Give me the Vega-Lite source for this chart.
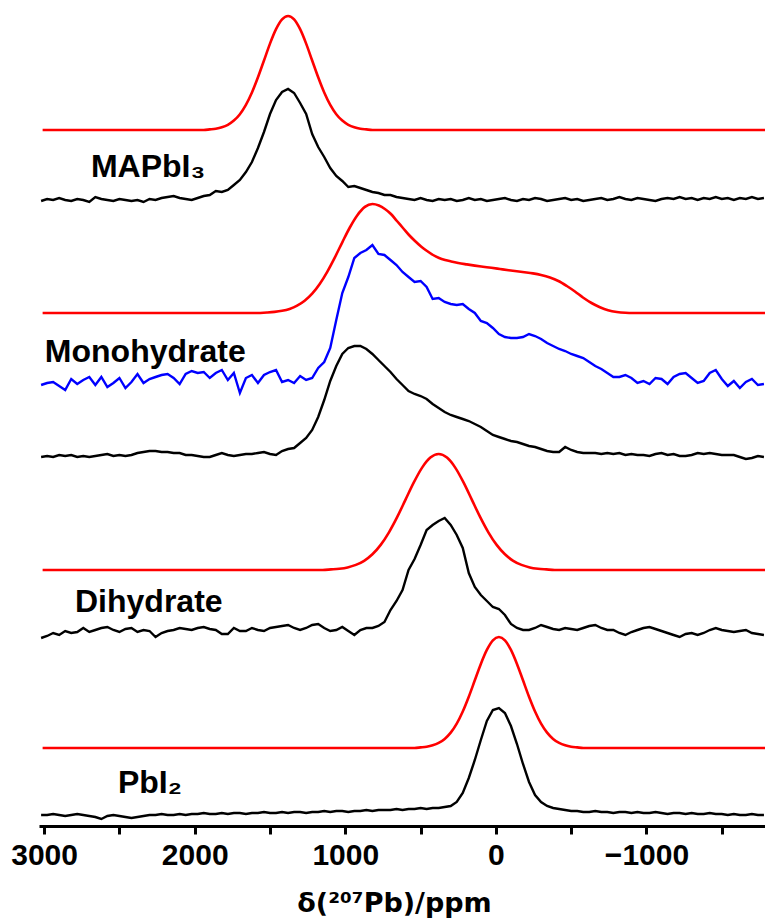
{
  "$schema": "https://vega.github.io/schema/vega-lite/v6.json",
  "width": 726,
  "height": 826,
  "autosize": {"type": "none"},
  "padding": {"left": 39, "top": 0, "right": 0, "bottom": 96},
  "background": "white",
  "config": {"view": {"stroke": null}},
  "datasets": {
    "fits": [
      {"s":"m","ppm":3010,"I":696},{"s":"m","ppm":1940,"I":696},{"s":"m","ppm":1900,"I":696.6},{"s":"m","ppm":1860,"I":697.3},{"s":"m","ppm":1820,"I":698.7},{"s":"m","ppm":1780,"I":701.2},{"s":"m","ppm":1740,"I":705.4},{"s":"m","ppm":1700,"I":711.8},{"s":"m","ppm":1660,"I":721.1},{"s":"m","ppm":1620,"I":733.5},{"s":"m","ppm":1580,"I":748.7},{"s":"m","ppm":1540,"I":765.5},{"s":"m","ppm":1500,"I":782.4},{"s":"m","ppm":1460,"I":796.8},{"s":"m","ppm":1420,"I":806.6},{"s":"m","ppm":1380,"I":810},{"s":"m","ppm":1340,"I":806.6},{"s":"m","ppm":1300,"I":796.8},{"s":"m","ppm":1260,"I":782.4},{"s":"m","ppm":1220,"I":765.5},{"s":"m","ppm":1180,"I":748.7},{"s":"m","ppm":1140,"I":733.5},{"s":"m","ppm":1100,"I":721.1},{"s":"m","ppm":1060,"I":711.8},{"s":"m","ppm":1020,"I":705.4},{"s":"m","ppm":980,"I":701.2},{"s":"m","ppm":940,"I":698.7},{"s":"m","ppm":900,"I":697.3},{"s":"m","ppm":860,"I":696.6},{"s":"m","ppm":820,"I":696},{"s":"m","ppm":-1787,"I":696},
      {"s":"h","ppm":3010,"I":513},{"s":"h","ppm":1600,"I":513},{"s":"h","ppm":1520,"I":513.5},{"s":"h","ppm":1470,"I":514.1},{"s":"h","ppm":1420,"I":515.2},{"s":"h","ppm":1370,"I":517.1},{"s":"h","ppm":1320,"I":520.3},{"s":"h","ppm":1270,"I":525.2},{"s":"h","ppm":1220,"I":532.3},{"s":"h","ppm":1170,"I":542},{"s":"h","ppm":1120,"I":554.2},{"s":"h","ppm":1070,"I":568.4},{"s":"h","ppm":1020,"I":583.7},{"s":"h","ppm":970,"I":598.5},{"s":"h","ppm":920,"I":610.8},{"s":"h","ppm":870,"I":619.1},{"s":"h","ppm":820,"I":622},{"s":"h","ppm":777,"I":620.5},{"s":"h","ppm":737,"I":617},{"s":"h","ppm":697,"I":612},{"s":"h","ppm":657,"I":605},{"s":"h","ppm":617,"I":598},{"s":"h","ppm":577,"I":591},{"s":"h","ppm":537,"I":585},{"s":"h","ppm":497,"I":579.5},{"s":"h","ppm":457,"I":575},{"s":"h","ppm":417,"I":571},{"s":"h","ppm":377,"I":568},{"s":"h","ppm":337,"I":566},{"s":"h","ppm":297,"I":564.5},{"s":"h","ppm":250,"I":563},{"s":"h","ppm":193,"I":561.6},{"s":"h","ppm":140,"I":560.4},{"s":"h","ppm":86,"I":559.3},{"s":"h","ppm":30,"I":558.2},{"s":"h","ppm":-27,"I":557},{"s":"h","ppm":-85,"I":555.8},{"s":"h","ppm":-139,"I":554.8},{"s":"h","ppm":-190,"I":553.8},{"s":"h","ppm":-246,"I":552.6},{"s":"h","ppm":-300,"I":551},{"s":"h","ppm":-359,"I":548.5},{"s":"h","ppm":-415,"I":545},{"s":"h","ppm":-471,"I":540},{"s":"h","ppm":-525,"I":534.5},{"s":"h","ppm":-578,"I":528.5},{"s":"h","ppm":-635,"I":523},{"s":"h","ppm":-691,"I":518.8},{"s":"h","ppm":-745,"I":515.8},{"s":"h","ppm":-803,"I":514},{"s":"h","ppm":-860,"I":513.2},{"s":"h","ppm":-910,"I":513},{"s":"h","ppm":-1787,"I":513},
      {"s":"d","ppm":3010,"I":256},{"s":"d","ppm":1150,"I":256},{"s":"d","ppm":1095,"I":256.6},{"s":"d","ppm":1040,"I":257.3},{"s":"d","ppm":985,"I":258.6},{"s":"d","ppm":930,"I":261.1},{"s":"d","ppm":875,"I":265.2},{"s":"d","ppm":820,"I":271.7},{"s":"d","ppm":765,"I":281.1},{"s":"d","ppm":710,"I":293.7},{"s":"d","ppm":655,"I":309.1},{"s":"d","ppm":600,"I":326.4},{"s":"d","ppm":545,"I":343.6},{"s":"d","ppm":490,"I":358.4},{"s":"d","ppm":435,"I":368.4},{"s":"d","ppm":380,"I":372},{"s":"d","ppm":325,"I":368.4},{"s":"d","ppm":270,"I":358.4},{"s":"d","ppm":215,"I":343.6},{"s":"d","ppm":160,"I":326.4},{"s":"d","ppm":105,"I":309.1},{"s":"d","ppm":50,"I":293.7},{"s":"d","ppm":-5,"I":281.1},{"s":"d","ppm":-60,"I":271.7},{"s":"d","ppm":-115,"I":265.2},{"s":"d","ppm":-170,"I":261.1},{"s":"d","ppm":-225,"I":258.6},{"s":"d","ppm":-280,"I":257.3},{"s":"d","ppm":-335,"I":256.6},{"s":"d","ppm":-390,"I":256},{"s":"d","ppm":-1787,"I":256},
      {"s":"p","ppm":3010,"I":78},{"s":"p","ppm":540,"I":78},{"s":"p","ppm":500,"I":78.6},{"s":"p","ppm":460,"I":79.3},{"s":"p","ppm":420,"I":80.7},{"s":"p","ppm":380,"I":83.1},{"s":"p","ppm":340,"I":87.1},{"s":"p","ppm":300,"I":93.4},{"s":"p","ppm":260,"I":102.4},{"s":"p","ppm":220,"I":114.5},{"s":"p","ppm":180,"I":129.3},{"s":"p","ppm":140,"I":145.7},{"s":"p","ppm":100,"I":162.1},{"s":"p","ppm":60,"I":176.1},{"s":"p","ppm":20,"I":185.7},{"s":"p","ppm":-20,"I":189},{"s":"p","ppm":-60,"I":185.7},{"s":"p","ppm":-100,"I":176.1},{"s":"p","ppm":-140,"I":162.1},{"s":"p","ppm":-180,"I":145.7},{"s":"p","ppm":-220,"I":129.3},{"s":"p","ppm":-260,"I":114.5},{"s":"p","ppm":-300,"I":102.4},{"s":"p","ppm":-340,"I":93.4},{"s":"p","ppm":-380,"I":87.1},{"s":"p","ppm":-420,"I":83.1},{"s":"p","ppm":-460,"I":80.7},{"s":"p","ppm":-500,"I":79.3},{"s":"p","ppm":-540,"I":78.6},{"s":"p","ppm":-580,"I":78},{"s":"p","ppm":-1787,"I":78}
    ],
    "spectra": [
      {"ppm":3020,"mb":625,"hu":441,"hb":369,"db":188,"pb":11},
      {"ppm":2980,"mb":627,"hu":443,"hb":370,"db":190,"pb":11},
      {"ppm":2940,"mb":626,"hu":444,"hb":369,"db":193,"pb":12},
      {"ppm":2900,"mb":628,"hu":440,"hb":371,"db":191,"pb":11},
      {"ppm":2860,"mb":626,"hu":436,"hb":370,"db":195,"pb":10},
      {"ppm":2820,"mb":625,"hu":447,"hb":371,"db":193,"pb":11},
      {"ppm":2780,"mb":627,"hu":442,"hb":369,"db":194,"pb":12},
      {"ppm":2740,"mb":626,"hu":446,"hb":370,"db":198,"pb":11},
      {"ppm":2700,"mb":624,"hu":449,"hb":369,"db":194,"pb":10},
      {"ppm":2660,"mb":629,"hu":441,"hb":370,"db":196,"pb":9},
      {"ppm":2620,"mb":627,"hu":449,"hb":371,"db":198,"pb":7},
      {"ppm":2580,"mb":626,"hu":439,"hb":372,"db":199,"pb":10},
      {"ppm":2540,"mb":625,"hu":443,"hb":370,"db":196,"pb":11},
      {"ppm":2500,"mb":627,"hu":448,"hb":371,"db":194,"pb":10},
      {"ppm":2460,"mb":626,"hu":438,"hb":370,"db":197,"pb":9},
      {"ppm":2420,"mb":625,"hu":444,"hb":371,"db":198,"pb":8},
      {"ppm":2380,"mb":626,"hu":452,"hb":373,"db":194,"pb":9},
      {"ppm":2340,"mb":624,"hu":443,"hb":374,"db":196,"pb":10},
      {"ppm":2300,"mb":627,"hu":447,"hb":375,"db":195,"pb":11},
      {"ppm":2260,"mb":626,"hu":449,"hb":375,"db":189,"pb":11},
      {"ppm":2220,"mb":628,"hu":451,"hb":374,"db":193,"pb":12},
      {"ppm":2180,"mb":629,"hu":452,"hb":374,"db":195,"pb":11},
      {"ppm":2140,"mb":630,"hu":448,"hb":373,"db":196,"pb":11},
      {"ppm":2100,"mb":628,"hu":442,"hb":373,"db":198,"pb":12},
      {"ppm":2060,"mb":627,"hu":452,"hb":371,"db":197,"pb":11},
      {"ppm":2020,"mb":626,"hu":455,"hb":371,"db":196,"pb":12},
      {"ppm":1980,"mb":628,"hu":453,"hb":370,"db":198,"pb":12},
      {"ppm":1940,"mb":630,"hu":454,"hb":369,"db":199,"pb":13},
      {"ppm":1900,"mb":631,"hu":448,"hb":369,"db":197,"pb":12},
      {"ppm":1860,"mb":635,"hu":453,"hb":371,"db":196,"pb":12},
      {"ppm":1820,"mb":634,"hu":456,"hb":373,"db":192,"pb":13},
      {"ppm":1780,"mb":636,"hu":446,"hb":371,"db":192,"pb":12},
      {"ppm":1740,"mb":641,"hu":453,"hb":370,"db":198,"pb":13},
      {"ppm":1700,"mb":646,"hu":433,"hb":371,"db":195,"pb":13},
      {"ppm":1660,"mb":654,"hu":448,"hb":372,"db":195,"pb":12},
      {"ppm":1620,"mb":664,"hu":451,"hb":372,"db":198,"pb":13},
      {"ppm":1580,"mb":678,"hu":443,"hb":373,"db":196,"pb":13},
      {"ppm":1540,"mb":694,"hu":451,"hb":374,"db":195,"pb":14},
      {"ppm":1500,"mb":712,"hu":454,"hb":372,"db":198,"pb":13},
      {"ppm":1460,"mb":726,"hu":456,"hb":371,"db":199,"pb":13},
      {"ppm":1420,"mb":734,"hu":444,"hb":375,"db":200,"pb":14},
      {"ppm":1380,"mb":737,"hu":446,"hb":377,"db":201,"pb":13},
      {"ppm":1340,"mb":733,"hu":443,"hb":378,"db":198,"pb":14},
      {"ppm":1300,"mb":723,"hu":450,"hb":383,"db":196,"pb":14},
      {"ppm":1260,"mb":712,"hu":446,"hb":388,"db":198,"pb":13},
      {"ppm":1220,"mb":692,"hu":448,"hb":396,"db":201,"pb":14},
      {"ppm":1180,"mb":679,"hu":458,"hb":409,"db":202,"pb":14},
      {"ppm":1140,"mb":669,"hu":464,"hb":426,"db":198,"pb":15},
      {"ppm":1100,"mb":658,"hu":478,"hb":445,"db":195,"pb":14},
      {"ppm":1060,"mb":650,"hu":506,"hb":460,"db":196,"pb":15},
      {"ppm":1020,"mb":645,"hu":533,"hb":472,"db":199,"pb":15},
      {"ppm":980,"mb":639,"hu":549,"hb":478,"db":195,"pb":14},
      {"ppm":940,"mb":640,"hu":568,"hb":480,"db":191,"pb":15},
      {"ppm":900,"mb":638,"hu":573,"hb":480,"db":196,"pb":15},
      {"ppm":860,"mb":636,"hu":576,"hb":477,"db":198,"pb":16},
      {"ppm":820,"mb":634,"hu":581,"hb":472,"db":198,"pb":15},
      {"ppm":780,"mb":633,"hu":572,"hb":466,"db":200,"pb":16},
      {"ppm":740,"mb":631,"hu":571,"hb":460,"db":204,"pb":16},
      {"ppm":700,"mb":631,"hu":566,"hb":454,"db":216,"pb":16},
      {"ppm":660,"mb":629,"hu":561,"hb":447,"db":225,"pb":17},
      {"ppm":620,"mb":628,"hu":554,"hb":441,"db":236,"pb":16},
      {"ppm":580,"mb":627,"hu":549,"hb":435,"db":256,"pb":17},
      {"ppm":540,"mb":626,"hu":544,"hb":432,"db":267,"pb":17},
      {"ppm":500,"mb":628,"hu":545,"hb":430,"db":281,"pb":18},
      {"ppm":460,"mb":626,"hu":539,"hb":427,"db":296,"pb":17},
      {"ppm":420,"mb":625,"hu":527,"hb":422,"db":301,"pb":18},
      {"ppm":380,"mb":627,"hu":528,"hb":418,"db":305,"pb":18},
      {"ppm":340,"mb":626,"hu":524,"hb":414,"db":308,"pb":19},
      {"ppm":300,"mb":627,"hu":522,"hb":411,"db":301,"pb":20},
      {"ppm":260,"mb":625,"hu":521,"hb":409,"db":291,"pb":24},
      {"ppm":220,"mb":626,"hu":522,"hb":407,"db":278,"pb":33},
      {"ppm":180,"mb":628,"hu":517,"hb":405,"db":253,"pb":48},
      {"ppm":140,"mb":626,"hu":513,"hb":402,"db":239,"pb":66},
      {"ppm":100,"mb":627,"hu":505,"hb":399,"db":231,"pb":86},
      {"ppm":60,"mb":625,"hu":503,"hb":395,"db":225,"pb":105},
      {"ppm":20,"mb":626,"hu":498,"hb":391,"db":219,"pb":116},
      {"ppm":-20,"mb":627,"hu":492,"hb":389,"db":217,"pb":118},
      {"ppm":-60,"mb":628,"hu":489,"hb":387,"db":211,"pb":113},
      {"ppm":-100,"mb":626,"hu":488,"hb":385,"db":202,"pb":100},
      {"ppm":-140,"mb":625,"hu":488,"hb":384,"db":198,"pb":82},
      {"ppm":-180,"mb":627,"hu":489,"hb":382,"db":196,"pb":62},
      {"ppm":-220,"mb":626,"hu":492,"hb":380,"db":196,"pb":44},
      {"ppm":-260,"mb":628,"hu":490,"hb":379,"db":198,"pb":31},
      {"ppm":-300,"mb":627,"hu":487,"hb":377,"db":201,"pb":24},
      {"ppm":-340,"mb":625,"hu":483,"hb":375,"db":199,"pb":20},
      {"ppm":-380,"mb":626,"hu":480,"hb":374,"db":197,"pb":18},
      {"ppm":-420,"mb":627,"hu":477,"hb":374,"db":196,"pb":17},
      {"ppm":-460,"mb":628,"hu":475,"hb":379,"db":198,"pb":16},
      {"ppm":-500,"mb":626,"hu":472,"hb":376,"db":197,"pb":15},
      {"ppm":-540,"mb":627,"hu":470,"hb":374,"db":196,"pb":15},
      {"ppm":-580,"mb":625,"hu":468,"hb":373,"db":198,"pb":14},
      {"ppm":-620,"mb":626,"hu":464,"hb":373,"db":200,"pb":14},
      {"ppm":-660,"mb":627,"hu":460,"hb":373,"db":201,"pb":15},
      {"ppm":-700,"mb":628,"hu":457,"hb":372,"db":198,"pb":14},
      {"ppm":-740,"mb":626,"hu":453,"hb":373,"db":196,"pb":14},
      {"ppm":-780,"mb":627,"hu":449,"hb":372,"db":196,"pb":13},
      {"ppm":-820,"mb":629,"hu":449,"hb":373,"db":193,"pb":14},
      {"ppm":-860,"mb":627,"hu":451,"hb":371,"db":191,"pb":14},
      {"ppm":-900,"mb":626,"hu":448,"hb":372,"db":194,"pb":13},
      {"ppm":-940,"mb":628,"hu":443,"hb":371,"db":196,"pb":14},
      {"ppm":-980,"mb":627,"hu":445,"hb":371,"db":198,"pb":13},
      {"ppm":-1020,"mb":626,"hu":442,"hb":370,"db":199,"pb":13},
      {"ppm":-1060,"mb":625,"hu":448,"hb":372,"db":197,"pb":14},
      {"ppm":-1100,"mb":627,"hu":447,"hb":373,"db":195,"pb":13},
      {"ppm":-1140,"mb":628,"hu":442,"hb":371,"db":193,"pb":12},
      {"ppm":-1180,"mb":627,"hu":449,"hb":372,"db":191,"pb":13},
      {"ppm":-1220,"mb":629,"hu":452,"hb":370,"db":189,"pb":13},
      {"ppm":-1260,"mb":627,"hu":453,"hb":370,"db":192,"pb":12},
      {"ppm":-1300,"mb":628,"hu":448,"hb":371,"db":193,"pb":13},
      {"ppm":-1340,"mb":626,"hu":443,"hb":373,"db":191,"pb":12},
      {"ppm":-1380,"mb":628,"hu":445,"hb":372,"db":193,"pb":12},
      {"ppm":-1420,"mb":627,"hu":453,"hb":373,"db":196,"pb":13},
      {"ppm":-1460,"mb":629,"hu":456,"hb":372,"db":198,"pb":12},
      {"ppm":-1500,"mb":627,"hu":447,"hb":371,"db":196,"pb":12},
      {"ppm":-1540,"mb":628,"hu":440,"hb":371,"db":195,"pb":11},
      {"ppm":-1580,"mb":626,"hu":445,"hb":371,"db":194,"pb":12},
      {"ppm":-1620,"mb":628,"hu":438,"hb":369,"db":195,"pb":11},
      {"ppm":-1660,"mb":627,"hu":444,"hb":367,"db":196,"pb":11},
      {"ppm":-1700,"mb":629,"hu":447,"hb":368,"db":193,"pb":12},
      {"ppm":-1740,"mb":627,"hu":441,"hb":370,"db":192,"pb":11},
      {"ppm":-1780,"mb":628,"hu":442,"hb":369,"db":191,"pb":11}
    ],
    "labels": [
      {"ppm":2689,"I":649,"t":"MAPbI₃"},
      {"ppm":2995,"I":464,"t":"Monohydrate"},
      {"ppm":2795,"I":214,"t":"Dihydrate"},
      {"ppm":2510,"I":33,"t":"PbI₂"}
    ]
  },
  "encoding": {
    "x": {
      "field": "ppm",
      "type": "quantitative",
      "scale": {"domain": [-1787, 3034], "reverse": true, "nice": false, "zero": false},
      "axis": {
        "values": [3000, 2500, 2000, 1500, 1000, 500, 0, -500, -1000, -1500],
        "format": "d",
        "labelExpr": "datum.value % 1000 === 0 ? datum.label : ''",
        "title": "δ(²⁰⁷Pb)/ppm",
        "grid": false,
        "domainColor": "black",
        "domainWidth": 3,
        "tickColor": "black",
        "tickWidth": 3,
        "tickSize": 8,
        "labelFont": "Liberation Sans",
        "labelFontSize": 30,
        "labelFontWeight": "bold",
        "labelColor": "black",
        "labelPadding": 6,
        "labelFlush": false,
        "labelOverlap": false,
        "titleFont": "DejaVu Sans",
        "titleFontSize": 27,
        "titleFontWeight": "bold",
        "titleColor": "black",
        "titlePadding": 20,
        "titleX": 355
      }
    },
    "y": {
      "field": "I",
      "type": "quantitative",
      "scale": {"domain": [0, 826], "nice": false, "zero": false},
      "axis": null
    }
  },
  "layer": [
    {
      "data": {"name": "fits"},
      "mark": {"type": "line", "color": "#ff0000", "strokeWidth": 2.6, "interpolate": "monotone"},
      "encoding": {"detail": {"field": "s", "type": "nominal"}}
    },
    {
      "data": {"name": "spectra"},
      "transform": [{"fold": ["mb", "hu", "hb", "db", "pb"], "as": ["s", "I"]}],
      "mark": {"type": "line", "strokeWidth": 2.4},
      "encoding": {
        "color": {
          "field": "s",
          "type": "nominal",
          "scale": {"domain": ["mb", "hu", "hb", "db", "pb"], "range": ["#000000", "#0000ff", "#000000", "#000000", "#000000"]},
          "legend": null
        }
      }
    },
    {
      "data": {"name": "labels"},
      "mark": {"type": "text", "align": "left", "baseline": "alphabetic", "font": "Liberation Sans", "fontSize": 32, "fontWeight": "bold", "color": "black"},
      "encoding": {"text": {"field": "t", "type": "nominal"}}
    }
  ]
}
